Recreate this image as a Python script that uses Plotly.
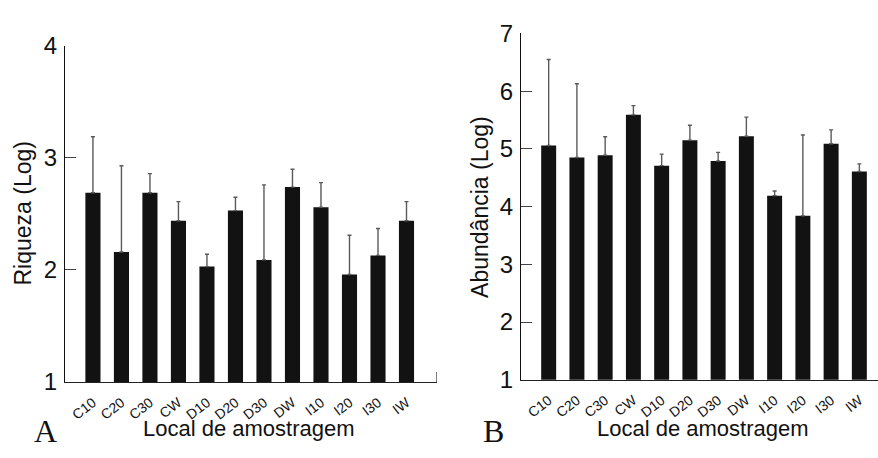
import plotly.graph_objects as go

categories = ["C10", "C20", "C30", "CW", "D10", "D20", "D30", "DW", "I10", "I20", "I30", "IW"]
riqueza = [2.69, 2.16, 2.69, 2.44, 2.03, 2.53, 2.09, 2.74, 2.56, 1.96, 2.13, 2.44]
riqueza_top = [3.19, 2.93, 2.86, 2.61, 2.14, 2.65, 2.76, 2.90, 2.78, 2.31, 2.37, 2.61]
abund = [5.06, 4.85, 4.89, 5.59, 4.71, 5.15, 4.79, 5.22, 4.19, 3.84, 5.09, 4.61]
abund_top = [6.55, 6.13, 5.21, 5.75, 4.91, 5.41, 4.94, 5.55, 4.27, 5.24, 5.33, 4.74]
riq_ticks = [1, 2, 3, 4]
abu_ticks = [1, 2, 3, 4, 5, 6, 7]

W, H = 878, 458
xs = list(range(len(categories)))
FONT = "Liberation Sans"

fig = go.Figure()

def add_bars(vals, tops, xa, ya):
    fig.add_trace(go.Bar(
        x=xs, y=vals, base=0, xaxis=xa, yaxis=ya,
        width=0.53, marker=dict(color="#121212", line=dict(width=0)),
        error_y=dict(type="data", symmetric=False,
                     array=[t - v for t, v in zip(tops, vals)],
                     arrayminus=[0] * len(vals),
                     color="#5a5a5a", thickness=1.4, width=2),
        showlegend=False, hoverinfo="skip"))

add_bars(riqueza, riqueza_top, "x", "y")
add_bars(abund, abund_top, "x2", "y2")

xcommon = dict(tickmode="array", tickvals=xs, ticktext=categories, tickangle=-38,
               showgrid=False, zeroline=False, showline=True, linecolor="#222",
               linewidth=1.2, ticks="", ticklen=0, ticklabelstandoff=6,
               tickfont=dict(family=FONT, size=14, color="#111"))
ycommon = dict(showgrid=False, zeroline=False, showline=True, linecolor="#111",
               linewidth=1.3, ticks="inside", ticklen=11, tickwidth=1.2, tickcolor="#444",
               tickfont=dict(family=FONT, size=24, color="#111"), ticklabelstandoff=2)

fig.update_layout(
    width=W, height=H, margin=dict(l=0, r=0, t=0, b=0),
    paper_bgcolor="white", plot_bgcolor="white",
    xaxis=dict(domain=[65 / W, 437 / W], range=[-0.98, 12.07], anchor="y", **xcommon),
    yaxis=dict(domain=[(H - 391) / H, (H - 34) / H], range=[1, 4], anchor="x",
               tickvals=riq_ticks, **ycommon),
    xaxis2=dict(domain=[521 / W, 1.0], range=[-0.98, 11.66], anchor="y2", **xcommon),
    yaxis2=dict(domain=[(H - 388.7) / H, (H - 20.7) / H], range=[1, 7], anchor="x2",
                tickvals=abu_ticks, **ycommon),
)

# small closing tick at the right end of panel A x-axis
fig.add_shape(type="line", xref="x", yref="y", x0=12.07, x1=12.07, y0=1, y1=1.09,
              line=dict(color="#222", width=1.2))

ann = [
    dict(text="Riqueza (Log)", x=23 / W, y=(H - 212) / H, textangle=-90, size=23),
    dict(text="Abundância (Log)", x=480 / W, y=(H - 205) / H, textangle=-90, size=23),
    dict(text="Local de amostragem", x=249 / W, y=(H - 440) / H, textangle=0, size=22),
    dict(text="Local de amostragem", x=703 / W, y=(H - 440) / H, textangle=0, size=22),
]
for a in ann:
    fig.add_annotation(text=a["text"], x=a["x"], y=a["y"], xref="paper", yref="paper",
                       xanchor="center", yanchor="middle", showarrow=False,
                       textangle=a["textangle"],
                       font=dict(family=FONT, size=a["size"], color="#111"))
for lab, xp in [("A", 45), ("B", 493)]:
    fig.add_annotation(text=lab, x=xp / W, y=(H - 443) / H, xref="paper", yref="paper",
                       xanchor="center", yanchor="middle", showarrow=False,
                       font=dict(family="Liberation Serif", size=32, color="#111"))

fig.write_html("out.html")
